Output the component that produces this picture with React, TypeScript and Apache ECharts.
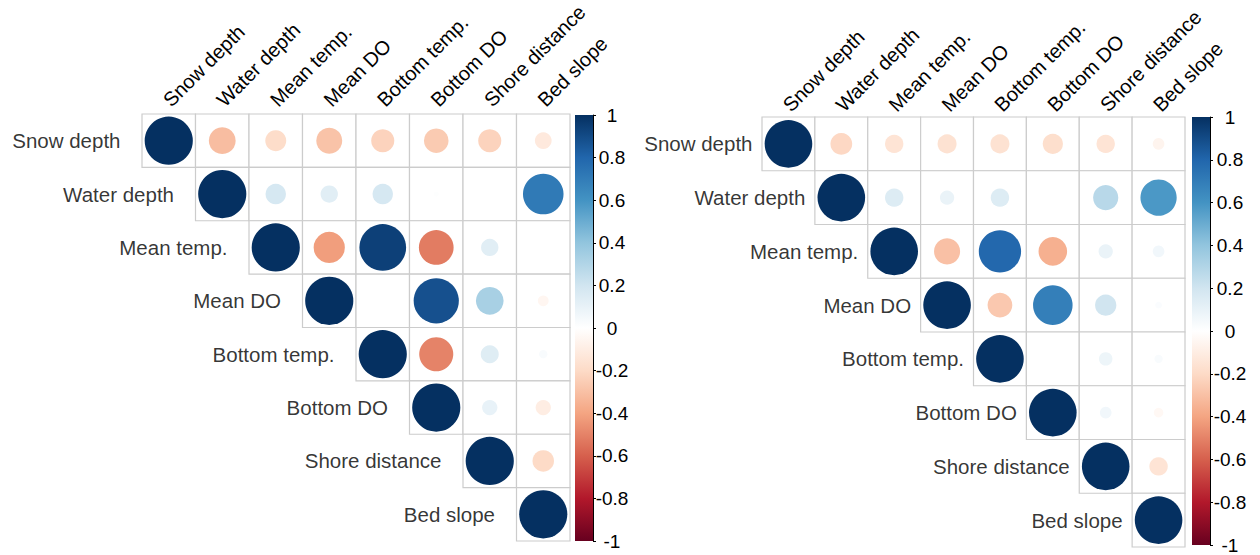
import React, { useEffect, useRef } from 'react';
import * as echarts from 'echarts';

const variables = ['Snow depth', 'Water depth', 'Mean temp.', 'Mean DO', 'Bottom temp.', 'Bottom DO', 'Shore distance', 'Bed slope'];

// Left panel: upper triangle rows (starting at the diagonal); null = blank cell
const leftRow1 = [1, -0.31, -0.19, -0.29, -0.23, -0.26, -0.23, -0.12];
const leftRow2 = [1, 0.18, 0.13, 0.18, 0.01, null, 0.71];
const leftRow3 = [1, -0.42, 0.94, -0.52, 0.13, null];
const leftRow4 = [1, null, 0.88, 0.33, -0.05];
const leftRow5 = [1, -0.5, 0.14, 0.03];
const leftRow6 = [1, 0.1, -0.1];
const leftRow7 = [1, -0.2];
const leftRow8 = [1];

// Right panel
const rightRow1 = [1, -0.21, -0.15, -0.16, -0.16, -0.18, -0.15, -0.06];
const rightRow2 = [1, 0.15, 0.09, 0.15, null, 0.28, 0.58];
const rightRow3 = [1, -0.3, 0.79, -0.36, 0.09, 0.06];
const rightRow4 = [1, -0.27, 0.69, 0.2, 0.02];
const rightRow5 = [1, null, 0.08, 0.03];
const rightRow6 = [1, 0.06, -0.04];
const rightRow7 = [1, -0.15];
const rightRow8 = [1];

const leftRows = [leftRow1, leftRow2, leftRow3, leftRow4, leftRow5, leftRow6, leftRow7, leftRow8];
const rightRows = [rightRow1, rightRow2, rightRow3, rightRow4, rightRow5, rightRow6, rightRow7, rightRow8];

const colorbarMin = -1;
const colorbarMax = 1;
const colorbarStep = 0.2;

const rdbu = ['#67001F', '#B2182B', '#D6604D', '#F4A582', '#FDDBC7', '#FFFFFF', '#D1E5F0', '#92C5DE', '#4393C3', '#2166AC', '#053061'];

const FONT = '"Liberation Sans", Arial, Helvetica, sans-serif';

function toPoints(rows: (number | null)[][]) {
  const pts: number[][] = [];
  rows.forEach((row, i) => {
    row.forEach((v, k) => {
      if (v !== null) pts.push([i + k, i, v]);
    });
  });
  return pts;
}
function toCells(rows: (number | null)[][]) {
  const cells: number[][] = [];
  rows.forEach((row, i) => {
    row.forEach((_v, k) => cells.push([i + k, i]));
  });
  return cells;
}

const cellRender = (_p: any, api: any) => {
  const c = api.coord([api.value(0), api.value(1)]);
  const s = api.size([1, 1]);
  return {
    type: 'rect',
    shape: { x: c[0] - s[0] / 2, y: c[1] - s[1] / 2, width: s[0], height: s[1] },
    style: { fill: '#ffffff', stroke: '#cccccc', lineWidth: 1.2 },
  };
};

const colorbarRender = (_p: any, api: any) => {
  const top = api.coord([0, colorbarMax]);
  const bottom = api.coord([0, colorbarMin]);
  const w = api.size([1, 0])[0];
  const stops = rdbu
    .slice()
    .reverse()
    .map((c, i) => ({ offset: i / (rdbu.length - 1), color: c }));
  return {
    type: 'rect',
    shape: { x: top[0] - w / 2, y: top[1], width: w, height: bottom[1] - top[1] },
    style: { fill: new echarts.graphic.LinearGradient(0, 0, 0, 1, stops) },
  };
};

export default function App() {
  const ref = useRef<HTMLDivElement>(null);
  useEffect(() => {
    document.body.style.margin = '0';
    if (!ref.current) return;
    const chart = echarts.init(ref.current, undefined, { renderer: 'svg' });

    const panels = [
      { rows: leftRows, grid: { left: 142, top: 114, width: 428, height: 427 }, cb: { left: 575, top: 115, width: 18, height: 426 }, gap: 21, margin: -1, cbMargin: 19 },
      { rows: rightRows, grid: { left: 762, top: 117, width: 423, height: 430 }, cb: { left: 1192, top: 117, width: 18, height: 428 }, gap: 9, margin: -3, cbMargin: 20 },
    ];

    const grids: any[] = [];
    const xAxes: any[] = [];
    const yAxes: any[] = [];
    const series: any[] = [];
    const circleSeries: number[] = [];

    panels.forEach((p, pi) => {
      const gi = pi * 2;
      grids.push({ ...p.grid, containLabel: false, outerBoundsMode: 'none' });
      grids.push({ ...p.cb, containLabel: false, outerBoundsMode: 'none' });
      const cell = p.grid.width / variables.length;
      xAxes.push({
        type: 'category', gridIndex: gi, data: variables, position: 'top',
        axisLine: { show: false }, axisTick: { show: false }, splitLine: { show: false },
        axisLabel: {
          rotate: -45, margin: p.margin, color: '#000', fontSize: 20, fontFamily: FONT, interval: 0,
          align: 'left', verticalAlign: 'bottom', padding: [0, 0, 0, 7],
        },
      });
      xAxes.push({ type: 'category', gridIndex: gi + 1, data: ['cb'], show: false });
      yAxes.push({ type: 'category', gridIndex: gi, data: variables, inverse: true, show: false });
      yAxes.push({
        type: 'value', gridIndex: gi + 1, min: colorbarMin, max: colorbarMax, interval: colorbarStep, position: 'right',
        z: 5,
        splitLine: { show: false },
        axisLine: { show: true, lineStyle: { color: '#000', width: 1 } },
        axisTick: { show: true, length: 3, lineStyle: { color: '#000' } },
        axisLabel: { margin: p.cbMargin, align: 'center', color: '#000', fontSize: 19, fontFamily: FONT, formatter: (v: number) => String(Math.round(v * 10) / 10) },
      });
      series.push({
        type: 'custom', xAxisIndex: gi, yAxisIndex: gi, data: toCells(p.rows), renderItem: cellRender, silent: true, z: 1,
      });
      circleSeries.push(series.length);
      series.push({
        type: 'scatter', xAxisIndex: gi, yAxisIndex: gi, data: toPoints(p.rows), symbol: 'circle',
        itemStyle: { opacity: 1 },
        symbolSize: (d: number[]) => cell * 0.9 * Math.sqrt(Math.abs(d[2])), z: 3,
      });
      series.push({
        type: 'scatter', xAxisIndex: gi, yAxisIndex: gi, data: variables.map((_v, i) => [i, i]), symbolSize: 1,
        itemStyle: { color: 'rgba(0,0,0,0)' }, z: 4,
        label: {
          show: true, position: 'left', distance: cell / 2 + p.gap, color: '#000', fontSize: 20.5, fontFamily: FONT,
          formatter: (prm: any) => variables[prm.data[0]],
        },
      });
      series.push({
        type: 'custom', xAxisIndex: gi + 1, yAxisIndex: gi + 1, data: [[0, colorbarMin]], renderItem: colorbarRender, silent: true, z: 1,
      });
    });

    chart.setOption({
      animation: false,
      backgroundColor: '#ffffff',
      grid: grids,
      xAxis: xAxes,
      yAxis: yAxes,
      visualMap: [{
        type: 'continuous', show: false, min: colorbarMin, max: colorbarMax, dimension: 2,
        seriesIndex: circleSeries, inRange: { color: rdbu },
      }],
      series,
    });
    return () => chart.dispose();
  }, []);
  return <div ref={ref} style={{ width: 1260, height: 555 }} />;
}
